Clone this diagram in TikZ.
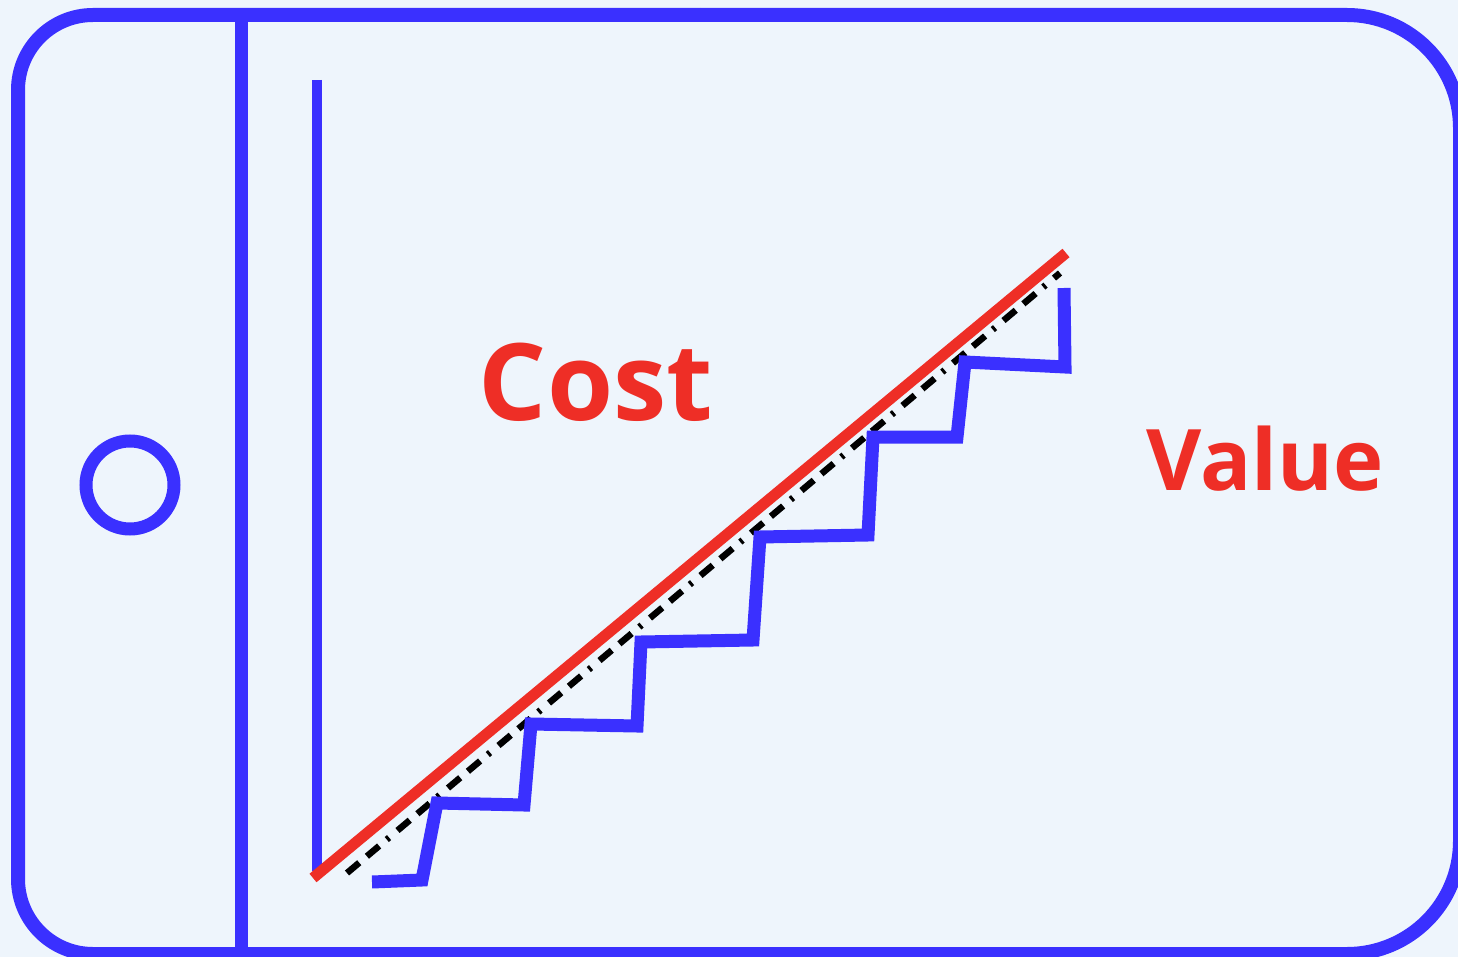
\documentclass[tikz,border=0pt]{standalone}
\usepackage{fontspec}
\setsansfont{Open Sans}
\usetikzlibrary{calc}
\definecolor{frameblue}{HTML}{3A30FF}
\definecolor{costred}{HTML}{EE2E26}
\definecolor{paper}{HTML}{EEF5FC}

\begin{document}
\begin{tikzpicture}[x=1pt, y=-1pt, line join=miter]
  \fill[paper] (0,0) rectangle (1458,957);
  \useasboundingbox (0,0) rectangle (1458,957);

  \coordinate (TM) at (700,15);
  \coordinate (BM) at (700,954);
  \coordinate (TL) at (18,15);
  \coordinate (BL) at (18,954);
  \coordinate (TR) at (1460,15);
  \coordinate (BR) at (1460,954);

  \draw[frameblue, line width=14pt, rounded corners=75pt] (TM) -- (TL) -- (BL) -- (BM);
  \draw[frameblue, line width=14pt, rounded corners=113pt] (TM) -- (TR) -- (BR) -- (BM);
  \draw[frameblue, line width=13pt] (241.5,15) -- (241.5,954);
  \draw[frameblue, line width=13pt] (130,485) circle[radius=44];

  \coordinate (A) at (317,80);
  \coordinate (O) at (317,871);
  \draw[frameblue, line width=10pt] (A) -- (O);

  \coordinate (R1) at (313,878);
  \coordinate (R2) at (1066,253);
  \draw[costred, line width=11pt] (R1) -- (R2);

  \coordinate (D1) at (347,873);
  \coordinate (D2) at (1060,273);
  \draw[black, line width=6.5pt, dash pattern=on 16pt off 10pt on 16pt off 10pt on 3pt off 11pt] (D1) -- (D2);

  \draw[frameblue, line width=13pt]
    (372,882) -- (422,880) -- (437,803) -- (524,805) -- (531,724) -- (637,726)
    -- (641,642) -- (753,640) -- (760,537) -- (868,535) -- (873,437) -- (957,437)
    -- (965,362) -- (1065,367) -- (1064,288);

  \node[anchor=base, text=costred, font=\sffamily\bfseries\fontsize{107}{112}\selectfont] (cost) at (596,420) {Cost};
  \node[anchor=base, text=costred, font=\sffamily\bfseries\fontsize{85}{90}\selectfont] (value) at (1265,490) {Value};
\end{tikzpicture}
\end{document}
